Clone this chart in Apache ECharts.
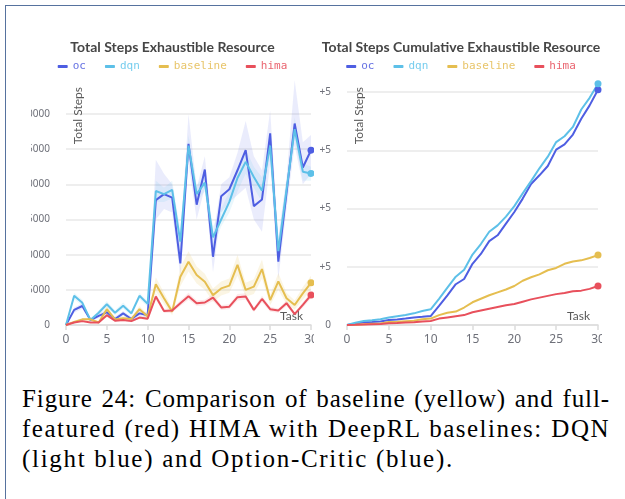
<!DOCTYPE html>
<html><head><meta charset="utf-8">
<script src="https://cdn.jsdelivr.net/npm/echarts@6/dist/echarts.min.js"></script>
<style>
html,body{margin:0;padding:0;background:#fff;width:625px;height:499px;overflow:hidden;}
#frame{position:absolute;left:5px;top:5px;width:640px;height:520px;border-left:1.5px solid #56729e;border-top:1.5px solid #56729e;}
#left{position:absolute;left:31px;top:0;width:283px;height:360px;overflow:hidden;}
#right{position:absolute;left:320px;top:0;width:282px;height:360px;overflow:hidden;}
.cap{position:absolute;left:22px;width:588px;font-family:'Liberation Serif',serif;font-size:25px;line-height:30px;color:#000;white-space:nowrap;letter-spacing:1.7px;}
.j{text-align:justify;text-align-last:justify;}
</style></head><body>
<div id="frame"></div>
<div id="left"></div><div id="right"></div>
<div class="cap j" style="top:384px;letter-spacing:0.9px">Figure 24: Comparison of baseline (yellow) and full-</div>
<div class="cap j" style="top:414px;letter-spacing:1.5px">featured (red) HIMA with DeepRL baselines: DQN</div>
<div class="cap" style="top:444px">(light blue) and Option-Critic (blue).</div>
<script>
const tasks = [0,1,2,3,4,5,6,7,8,9,10,11,12,13,14,15,16,17,18,19,20,21,22,23,24,25,26,27,28,29,30];
const seriesNames = ['oc','dqn','baseline','hima'];

// Left chart: steps per task
const ocSteps   = [0,2150,2700,700,1300,1800,850,1650,850,1650,1400,17750,18600,18100,8750,25750,17100,22100,9700,18300,19300,22000,24850,16900,17850,27250,9000,18750,28650,22400,24850];
const dqnSteps  = [0,4150,3150,700,1750,2950,1750,2750,1650,4150,3000,19050,18600,19200,11850,25500,18600,20250,12450,15000,17500,20900,23200,21050,19100,25500,10500,19200,27850,21800,21550];
const baseSteps = [0,450,800,800,350,2250,800,950,850,2250,1200,5800,3800,1900,6850,9000,7100,6150,4250,5200,5600,8550,5000,5450,7950,3550,6200,3800,2850,4500,6000];
const himaSteps = [0,350,550,350,350,1400,600,700,550,1050,900,4050,2000,2050,3100,4100,3100,3200,3900,2500,2600,3950,4050,2150,3700,2250,2050,3100,1550,2850,4250];

// Shaded bands (lower / upper)
const ocLo   = [0,1750,2300,500,1000,1500,500,1300,500,1300,1000,15000,16500,16000,7000,23000,15000,19500,7500,16000,17500,18500,19500,15000,13250,23000,6500,16500,25500,20000,21500];
const ocHi   = [0,2500,3100,1000,1600,2200,1200,2000,1200,2000,1800,23500,21500,20000,12000,30000,19500,24000,12500,20000,21000,24500,29000,24000,22000,30500,12500,21000,34800,26000,27000];
const dqnLo  = [0,3700,2700,500,1400,2500,1400,2300,1300,3700,2600,17500,17500,18000,10000,24000,17500,19000,11000,14000,16000,19000,21500,19500,17500,24000,9000,18000,26500,20500,20500];
const dqnHi  = [0,4600,3600,900,2100,3400,2100,3200,2000,4600,3400,20500,19500,20500,13500,27000,19800,21500,14000,16500,19000,22500,25000,22500,21000,27000,12000,20500,29500,23000,22500];
const baseLo = [0,300,600,600,200,1800,600,700,600,1800,900,4800,3000,1400,5500,7600,5900,5000,3300,4200,4600,7000,4000,4400,6600,2800,5000,3000,2200,3600,5000];
const baseHi = [0,600,1000,1000,500,2700,1000,1200,1100,2700,1500,6800,4600,2400,8200,10500,8300,7300,5200,6200,6600,10000,6000,6500,9300,4300,7400,4600,3500,5400,7000];
const himaLo = [0,250,400,250,250,1150,450,550,400,850,700,3600,1700,1750,2700,3600,2700,2800,3400,2150,2250,3500,3600,1850,3250,1900,1750,2700,1300,2450,3800];
const himaHi = [0,450,700,450,450,1650,750,850,700,1250,1100,4500,2300,2350,3500,4600,3500,3600,4400,2850,2950,4400,4500,2450,4150,2600,2350,3500,1800,3250,4700];

// Right chart: cumulative steps
const ocCum   = [0,2000,4600,5000,6000,8600,9500,11000,13000,14000,15400,33000,51000,70000,79000,105000,122000,144000,154000,174000,194000,217000,242000,257000,273000,301000,310000,327000,354000,377000,404000];
const dqnCum  = [0,4000,7000,8000,10000,13000,15000,17000,20000,24000,27000,45000,64000,83000,95000,121000,139000,160000,171000,186000,204000,226000,247000,269000,289000,314000,324000,340000,370000,390000,414000];
const baseCum = [0,500,1300,2000,2500,5000,5500,6500,7500,10000,11000,17000,21000,23000,30000,39000,45000,51000,56000,61000,67000,76000,82000,87000,94000,98000,105000,109000,111000,115000,120000];
const himaCum = [0,400,900,1300,1700,3000,3600,4300,4900,6000,7000,11000,13000,15000,17000,22000,25000,28000,31000,34000,36000,40000,44000,47000,50000,53000,55000,58000,59000,62000,67000];

const colors = {oc:'#4e5ee2', dqn:'#5dc0e8', baseline:'#e5be50', hima:'#e8505c'};
const legendColors = {oc:'#6672e3', dqn:'#76cdee', baseline:'#e8c56a', hima:'#ea6570'};
const bandColors = {oc:'rgba(90,110,230,0.13)', dqn:'rgba(93,192,232,0.13)', baseline:'rgba(229,190,80,0.16)', hima:'rgba(232,80,92,0.12)'};

function bandSeries(name, lo, hi) {
  const id = 'band-' + name;
  return [
    {type:'line', name:id+'-lo', data:lo, stack:id, symbol:'none', lineStyle:{opacity:0}, clip:false, silent:true, z:1},
    {type:'line', name:id+'-w', data:hi.map((v,i)=>v-lo[i]), stack:id, symbol:'none', lineStyle:{opacity:0},
     areaStyle:{color:bandColors[name], opacity:1}, clip:false, silent:true, z:1}
  ];
}
function mainSeries(name, data) {
  const last = data.length - 1;
  return {type:'line', name, data, symbol:'circle', showSymbol:true, showAllSymbol:true,
    symbolSize:(v,p)=> p.dataIndex===last ? 7 : 0,
    lineStyle:{width:2, color:colors[name]}, itemStyle:{color:colors[name]}, color:colors[name],
    clip:false, z:3};
}
function baseOption(title, top, yMax, yInt, yFmt, nameGap, gridLeft, gridRight) {
  return {
    animation:false,
    title:{text:title, left:'center', top:40, padding:0,
      textStyle:{fontFamily:'Lato', fontWeight:'bold', fontSize:14, color:'#464646'}},
    legend:{top:61, left:'center', padding:0, icon:'roundRect', itemWidth:10, itemHeight:3, itemGap:19,
      textStyle:{fontFamily:'DejaVu Sans Mono', fontSize:11},
      data:seriesNames.map(n=>({name:n, textStyle:{color:legendColors[n]}}))},
    grid:{left:gridLeft, right:gridRight, top:top, bottom:35, containLabel:false, outerBoundsMode:'none'},
    xAxis:{type:'category', data:tasks, boundaryGap:false, name:'Task', nameLocation:'end', nameGap:-8,
      nameTextStyle:{align:'right', verticalAlign:'bottom', padding:[0,0,3,0], color:'#5a5a5a', fontFamily:'Lato', fontSize:12},
      axisLine:{lineStyle:{color:'#dcdcdc', width:1.5}},
      axisTick:{interval:4, length:5, lineStyle:{color:'#dcdcdc', width:1.5}},
      axisLabel:{interval:4, color:'#6e7079', fontSize:12, margin:9, fontFamily:'Noto Sans'},
      splitLine:{show:false}},
    yAxis:{type:'value', min:0, max:yMax, interval:yInt, name:'Total Steps', nameLocation:'end', nameRotate:90, nameGap:nameGap,
      nameTextStyle:{align:'right', verticalAlign:'top', padding:[6,0,0,0], color:'#5a5a5a', fontFamily:'Lato', fontSize:12},
      axisLine:{show:false}, axisTick:{show:false},
      axisLabel:{formatter:yFmt, fontSize:10, margin:16, color:'#6e7079', fontFamily:'Noto Sans'},
      splitLine:{lineStyle:{color:'#e8e8e8', width:1.5}}}
  };
}

const left = echarts.init(document.getElementById('left'), null, {renderer:'canvas'});
const lo = baseOption('Total Steps Exhaustible Resource', 114, 30000, 5000, v=>String(v), 27, 35, 3);
lo.series = [].concat(
  bandSeries('oc', ocLo, ocHi), bandSeries('dqn', dqnLo, dqnHi),
  bandSeries('baseline', baseLo, baseHi), bandSeries('hima', himaLo, himaHi),
  [mainSeries('oc', ocSteps), mainSeries('dqn', dqnSteps), mainSeries('baseline', baseSteps), mainSeries('hima', himaSteps)]
);
left.setOption(lo);

const right = echarts.init(document.getElementById('right'), null, {renderer:'canvas'});
const ro = baseOption('Total Steps Cumulative Exhaustible Resource', 92, 400000, 100000,
  v => v===0 ? '0' : (v/100000) + 'e+5', 5, 27, 4);
ro.series = [mainSeries('oc', ocCum), mainSeries('dqn', dqnCum), mainSeries('baseline', baseCum), mainSeries('hima', himaCum)];
right.setOption(ro);
</script>
</body></html>
